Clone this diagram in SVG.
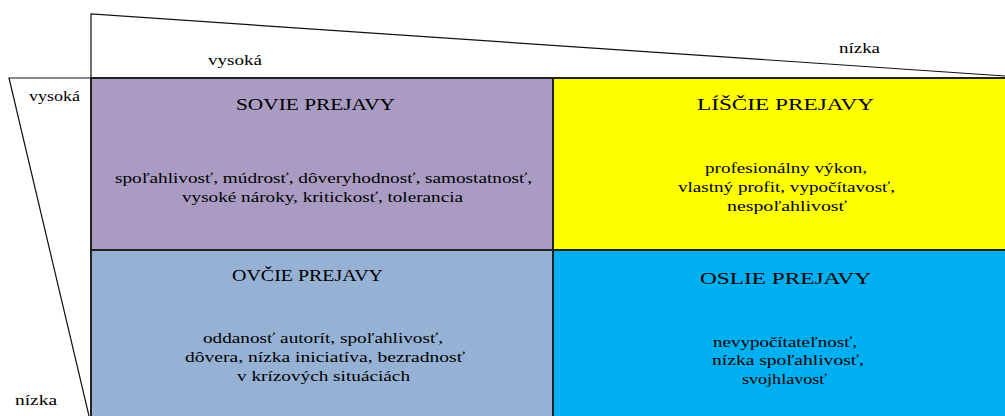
<svg xmlns="http://www.w3.org/2000/svg" width="1005" height="416" viewBox="0 0 1005 416" font-family="Liberation Serif, Times New Roman, serif">
  <style>
    .lbl { font-size: 15px; }
    .title { font-size: 17.5px; text-anchor: middle; }
    .body { font-size: 14.5px; text-anchor: middle; }
    .edge { fill: none; stroke: #111; stroke-width: 1.2; }
    .grid { fill: none; stroke: #222; stroke-width: 2; }
  </style>
  <rect width="1005" height="416" fill="#fff"/>

  <!-- axis wedges with their end labels -->
  <g id="axes" font-family="Liberation Serif, Times New Roman, serif">
    <path class="edge" d="M91,78 L91,14 L1005,76"/>
    <path class="edge" d="M91,78 L9,78 L89,416"/>
    <text class="lbl" x="208" y="65" textLength="54" lengthAdjust="spacingAndGlyphs">vysoká</text>
    <text class="lbl" x="839" y="53" textLength="41" lengthAdjust="spacingAndGlyphs">nízka</text>
    <text class="lbl" x="29" y="101" textLength="51" lengthAdjust="spacingAndGlyphs">vysoká</text>
    <text class="lbl" x="15" y="405" textLength="42" lengthAdjust="spacingAndGlyphs">nízka</text>
  </g>

  <g id="sovie" font-family="Liberation Serif, Times New Roman, serif">
    <rect x="91" y="78" width="462" height="172" fill="#A99BC2"/>
    <text class="title" x="315.5" y="110" textLength="159" lengthAdjust="spacingAndGlyphs">SOVIE PREJAVY</text>
    <text class="body" x="323.5" y="183" textLength="417" lengthAdjust="spacingAndGlyphs">spoľahlivosť, múdrosť, dôveryhodnosť, samostatnosť,</text>
    <text class="body" x="322.5" y="202" textLength="281" lengthAdjust="spacingAndGlyphs">vysoké nároky, kritickosť, tolerancia</text>
  </g>

  <g id="liscie" font-family="Liberation Serif, Times New Roman, serif">
    <rect x="553" y="78" width="452" height="172" fill="#FFFF00"/>
    <text class="title" x="785.5" y="110" textLength="177" lengthAdjust="spacingAndGlyphs">LÍŠČIE PREJAVY</text>
    <text class="body" x="786" y="173" textLength="162" lengthAdjust="spacingAndGlyphs">profesionálny výkon,</text>
    <text class="body" x="786.5" y="192" textLength="217" lengthAdjust="spacingAndGlyphs">vlastný profit, vypočítavosť,</text>
    <text class="body" x="787" y="211" textLength="120" lengthAdjust="spacingAndGlyphs">nespoľahlivosť</text>
  </g>

  <g id="ovcie" font-family="Liberation Serif, Times New Roman, serif">
    <rect x="91" y="250" width="462" height="166" fill="#95B1D3"/>
    <text class="title" x="307.5" y="281" textLength="151" lengthAdjust="spacingAndGlyphs">OVČIE PREJAVY</text>
    <text class="body" x="323" y="343" textLength="240" lengthAdjust="spacingAndGlyphs">oddanosť autorít, spoľahlivosť,</text>
    <text class="body" x="325" y="362" textLength="280" lengthAdjust="spacingAndGlyphs">dôvera, nízka iniciatíva, bezradnosť</text>
    <text class="body" x="323.5" y="381" textLength="173" lengthAdjust="spacingAndGlyphs">v krízových situáciách</text>
  </g>

  <g id="oslie" font-family="Liberation Serif, Times New Roman, serif">
    <rect x="553" y="250" width="452" height="166" fill="#00B0F0"/>
    <text class="title" x="785.5" y="284" textLength="171" lengthAdjust="spacingAndGlyphs">OSLIE PREJAVY</text>
    <text class="body" x="785" y="347" textLength="144" lengthAdjust="spacingAndGlyphs">nevypočítateľnosť,</text>
    <text class="body" x="788" y="365" textLength="152" lengthAdjust="spacingAndGlyphs">nízka spoľahlivosť,</text>
    <text class="body" x="784.5" y="384" textLength="85" lengthAdjust="spacingAndGlyphs">svojhlavosť</text>
  </g>

  <!-- quadrant borders -->
  <g id="connectors">
    <path class="grid" d="M91,78 L1005,78 M91,250 L1005,250 M553,78 L553,416 M91,78 L91,416"/>
  </g>
</svg>
